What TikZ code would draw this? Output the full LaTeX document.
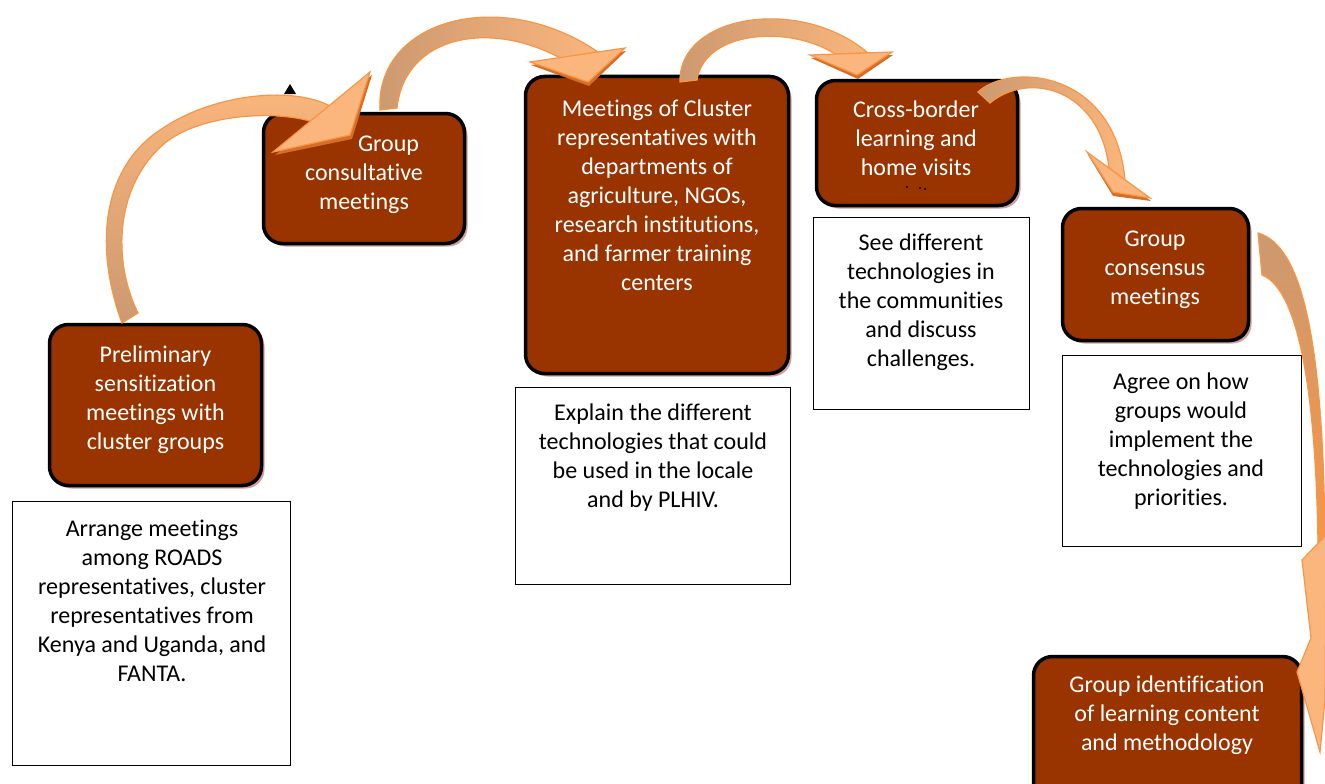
\documentclass[tikz,border=0pt]{standalone}
\usepackage{fontspec}
\setmainfont{Carlito}[Ligatures={NoCommon,NoContextual}]
\usetikzlibrary{shadows}
\definecolor{boxbrown}{RGB}{153,51,0}
\definecolor{shadowpink}{RGB}{205,160,160}
\definecolor{arrowtan}{RGB}{204,153,112}
\definecolor{arrowlight}{RGB}{250,182,124}
\definecolor{arroworange}{RGB}{247,150,70}
\definecolor{arrowdark}{RGB}{214,110,40}
\newcommand{\tstrut}{\rule{0pt}{20pt}}
\tikzset{
  brownbox/.style={draw=black, line width=3.5pt, fill=boxbrown, rounded corners=19pt,
    drop shadow={shadow xshift=3pt, shadow yshift=-3pt, fill=shadowpink, opacity=1}},
  whitebox/.style={draw=black, line width=1.3pt, fill=white},
  btext/.style={text=white, align=center, font=\fontsize{24}{29}\selectfont, inner sep=0pt, anchor=north},
  wtext/.style={text=black, align=center, font=\fontsize{24}{29}\selectfont, inner sep=0pt, anchor=north},
  arrowbody/.style={draw=arroworange, line width=1.2pt},
  arrowhead/.style={fill=arrowlight, draw=arroworange, line width=1.2pt, line join=miter},
  headshadow/.style={fill=arrowdark}
}
\begin{document}
\begin{tikzpicture}[x=1pt, y=-1pt]
\useasboundingbox (0,0) rectangle (1325,784);
\fill[white] (0,0) rectangle (1325,784);

% white boxes
\node[whitebox, minimum width=278pt, minimum height=264pt] (w1) at (151.5,633.5) {};
\node[whitebox, minimum width=275pt, minimum height=197pt] (w3) at (653,486) {};
\node[whitebox, minimum width=216pt, minimum height=192pt] (w4) at (921.5,313.5) {};
\node[whitebox, minimum width=239pt, minimum height=191pt] (w5) at (1182,451) {};

% brown boxes
\node[brownbox, minimum width=212pt, minimum height=161pt] (b1) at (155.5,405) {};
\node[brownbox, minimum width=201pt, minimum height=130pt] (b2) at (364,178.5) {};
\node[brownbox, minimum width=263pt, minimum height=297pt] (b3) at (657,225) {};
\node[brownbox, minimum width=201pt, minimum height=125pt] (b4) at (917,143) {};
\node[brownbox, minimum width=186pt, minimum height=132pt] (b5) at (1155.5,274.5) {};
\node[brownbox, minimum width=268pt, minimum height=152pt] (b6) at (1167.5,732.5) {};

% texts
\node[btext] (t1) at (155.5,342.5) {\tstrut Preliminary\\sensitization\\meetings with\\cluster groups};
\node[btext] (t2) at (364,131.5) {\tstrut\hspace*{49pt}Group\\consultative\\meetings};
\node[btext] (t3) at (657,96.5) {\tstrut Meetings of Cluster\\representatives with\\departments of\\agriculture, NGOs,\\research institutions,\\and farmer training\\centers};
\node[btext] (t4) at (916,97.5) {\tstrut Cross-border\\learning and\\home visits};
\node[btext] (t5) at (1155,226.5) {\tstrut Group\\consensus\\meetings};
\node[btext] (t6) at (1167,672.5) {\tstrut Group identification\\of learning content\\and methodology};
\node[wtext] (u1) at (152,516.5) {\tstrut Arrange meetings\\among ROADS\\representatives, cluster\\representatives from\\Kenya and Uganda, and\\FANTA.};
\node[wtext] (u3) at (653,400.5) {\tstrut Explain the different\\technologies that could\\be used in the locale\\and by PLHIV.};
\node[wtext] (u4) at (921,230.5) {\tstrut See different\\technologies in\\the communities\\and discuss\\challenges.};
\node[wtext] (u5) at (1181,369.5) {\tstrut Agree on how\\groups would\\implement the\\technologies and\\priorities.};

% tiny marks in box 4
\fill[black] (907,187) circle (1.1) (920,188) circle (1.1) (925,189) circle (1.1);

% small black triangle
\fill[black] (284,94) -- (290,84) -- (296,94) -- cycle;

% arrow 1
\shade[arrowbody, top color=arrowlight, bottom color=arrowtan]
  (122,323) .. controls (95,250) and (100,170) .. (160,130)
  .. controls (210,95) and (290,85) .. (330,106)
  -- (310,121) .. controls (270,110) and (200,115) .. (165,143)
  .. controls (115,185) and (112,260) .. (138,313) -- cycle;
\fill[headshadow] (372,75) -- (352,139) -- (275,155) -- cycle;
\draw[arrowhead] (370,72) -- (350,135) -- (273,152) -- cycle;

% arrow 2
\shade[arrowbody, left color=arrowtan, right color=arrowlight]
  (380,110) .. controls (375,20) and (500,-15) .. (598,52)
  -- (560,58) .. controls (490,20) and (405,35) .. (397,108) -- cycle;
\fill[headshadow] (531,65) -- (626,51) -- (589,86) -- cycle;
\draw[arrowhead] (530,62) -- (625,48) -- (588,82) -- cycle;

% arrow 3
\shade[arrowbody, left color=arrowtan, right color=arrowlight]
  (680,82) .. controls (678,15) and (800,-5) .. (868,53)
  -- (835,54) .. controls (790,25) and (705,30) .. (697,80) -- cycle;
\fill[headshadow] (811,58) -- (893,55) -- (858,79) -- cycle;
\draw[arrowhead] (810,55) -- (892,52) -- (857,75) -- cycle;

% arrow 4
\shade[arrowbody, left color=arrowtan, right color=arrowlight]
  (978,92) .. controls (1010,62) and (1115,70) .. (1125,180)
  -- (1109,168) .. controls (1100,90) and (1030,70) .. (990,103) -- cycle;
\fill[headshadow] (1088,155) -- (1151,201) -- (1113,196) -- cycle;
\draw[arrowhead] (1087,152) -- (1150,198) -- (1113,192) -- cycle;

% arrow 5
\shade[arrowbody, top color=arrowtan, bottom color=arroworange]
  (1258,233) .. controls (1300,245) and (1323,330) .. (1325,540)
  -- (1318,545) .. controls (1316,400) and (1300,290) .. (1262,275) -- cycle;
\draw[arrowhead] (1302,560) -- (1311,638) -- (1297,672) -- (1320,752) -- (1325,700) -- (1326,535) -- cycle;
\end{tikzpicture}
\end{document}
